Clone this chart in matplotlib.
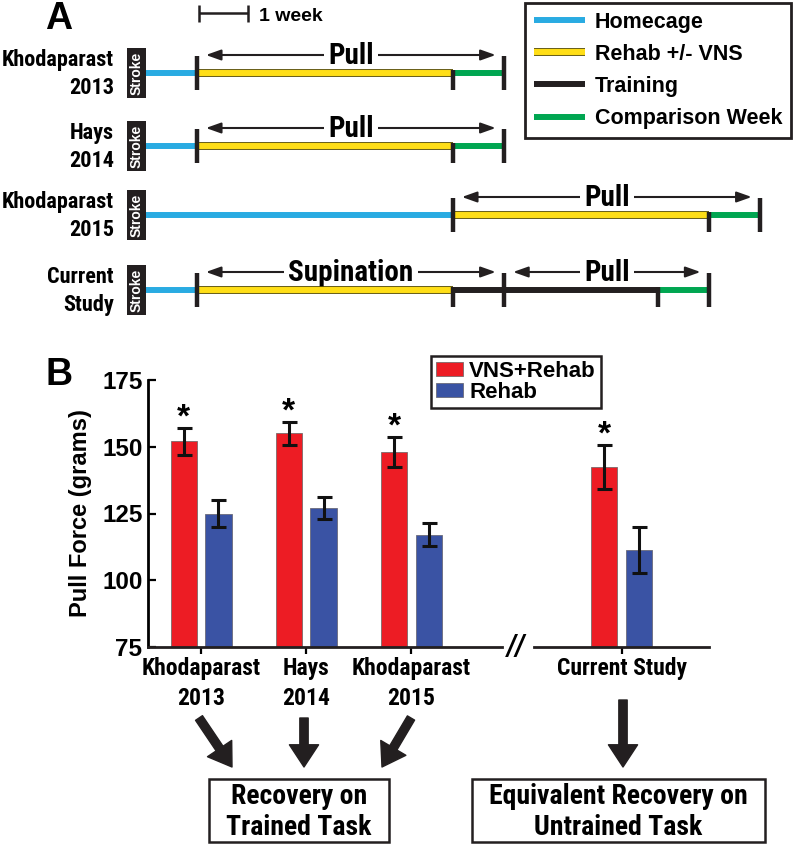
import matplotlib
matplotlib.use("Agg")
import matplotlib.pyplot as plt
from matplotlib import font_manager as fm
from matplotlib.patches import Rectangle, FancyArrowPatch
from matplotlib.lines import Line2D
import matplotlib.patheffects as pe

# ---------------- data ----------------
# Panel A: timelines (weeks after stroke)
phase_names = ["Homecage", "Rehab +/- VNS", "Training", "Comparison Week"]
timeline_studies = ["Khodaparast\n2013", "Hays\n2014", "Khodaparast\n2015", "Current\nStudy"]
seg_khodaparast2013 = [(0, 0, 1), (1, 1, 6), (3, 6, 7)]
seg_hays2014 = [(0, 0, 1), (1, 1, 6), (3, 6, 7)]
seg_khodaparast2015 = [(0, 0, 6), (1, 6, 11), (3, 11, 12)]
seg_current = [(0, 0, 1), (1, 1, 6), (2, 6, 10), (3, 10, 11)]
timeline_segments = [seg_khodaparast2013, seg_hays2014, seg_khodaparast2015, seg_current]
tall_ticks = [[1, 7], [1, 7], [6, 12], [1, 7, 11]]
short_ticks = [[6], [6], [11], [6, 10]]
task_spans = [[("Pull", 1, 7)], [("Pull", 1, 7)], [("Pull", 6, 12)],
              [("Supination", 1, 7), ("Pull", 7, 11)]]

# Panel B: pull force
groups = ["Khodaparast\n2013", "Hays\n2014", "Khodaparast\n2015", "Current Study"]
vns_rehab_mean = [152, 155, 148, 142.5]
vns_rehab_sem = [5.0, 4.3, 5.5, 8.2]
rehab_mean = [125, 127, 117, 111.3]
rehab_sem = [5.0, 4.2, 4.3, 8.6]
significant = [True, True, True, True]
outcome_texts = ["Recovery on\nTrained Task", "Equivalent Recovery on\nUntrained Task"]

# ---------------- style ----------------
avail = {f.name for f in fm.fontManager.ttflist}
COND = next((f for f in ["Liberation Sans Narrow", "Roboto Condensed",
                         "Open Sans Condensed", "DejaVu Sans"] if f in avail), "DejaVu Sans")
MAIN = "Liberation Sans"
plt.rcParams["font.family"] = [MAIN, "DejaVu Sans"]

phase_colors = ["#29ABE2", "#FFDE17", "#231F20", "#00A651"]
RED = "#ED1C24"
BLUE = "#3A53A4"

W, H, DPI = 800, 844, 100
fig = plt.figure(figsize=(W / DPI, H / DPI), dpi=DPI)

WEEK_PX = 51.2
X0 = 146
row_y = [73, 146, 215, 290]

# Panel A axes: x in weeks, y in pixels
axA = fig.add_axes([0, 0, 1, 1], zorder=0)
axA.set_xlim(-X0 / WEEK_PX, (W - X0) / WEEK_PX)
axA.set_ylim(H, 0)
axA.axis("off")

# overlay in pixel coordinates
axP = fig.add_axes([0, 0, 1, 1], zorder=3)
axP.set_xlim(0, W)
axP.set_ylim(H, 0)
axP.axis("off")
axP.patch.set_alpha(0)

yellow_fx = [pe.Stroke(linewidth=5.6, foreground="#5a4e00"), pe.Normal()]

for i, (label, segs) in enumerate(zip(timeline_studies, timeline_segments)):
    y = row_y[i]
    for ph, s, e in segs:
        axA.plot([s, e], [y, y], color=phase_colors[ph], lw=4.3, solid_capstyle="butt",
                 path_effects=yellow_fx if ph == 1 else None, zorder=3)
    for t in tall_ticks[i]:
        axA.plot([t, t], [y - 17, y + 17], color="#231F20", lw=3.2, solid_capstyle="butt", zorder=3.5)
    for t in short_ticks[i]:
        axA.plot([t, t], [y - 3, y + 17], color="#231F20", lw=3.2, solid_capstyle="butt", zorder=3.5)
    # stroke box
    axA.add_patch(Rectangle((-19 / WEEK_PX, y - 25), 19 / WEEK_PX, 50,
                            facecolor="#231F20", edgecolor="none", zorder=3))
    axA.text(-9.5 / WEEK_PX, y, "Stroke", rotation=90, color="white", fontsize=10,
             fontweight="bold", ha="center", va="center", zorder=4)
    axA.text(-32 / WEEK_PX, y + 1, label, ha="right", va="center", multialignment="right",
             fontsize=16, fontweight="bold", family=[COND, "DejaVu Sans"], linespacing=1.3)
    ya = y - 18
    for name, s, e in task_spans[i]:
        axA.annotate("", xy=(e - 0.17, ya), xytext=(s + 0.17, ya),
                     arrowprops=dict(arrowstyle="<|-|>,head_length=0.9,head_width=0.32",
                                     color="#231F20", lw=1.5, shrinkA=0, shrinkB=0,
                                     mutation_scale=10), zorder=2)
        axA.text((s + e) / 2, ya + 9, name, ha="center", va="baseline", fontsize=21,
                 fontweight="bold", family=[COND, "DejaVu Sans"], zorder=2.5,
                 bbox=dict(facecolor="white", edgecolor="none", pad=3))

# scale bar: 1 week
axA.plot([1.03, 2.0], [13, 13], color="#231F20", lw=1.8, solid_capstyle="butt")
for t in [1.03, 2.0]:
    axA.plot([t, t], [5, 22], color="#231F20", lw=1.8, solid_capstyle="butt")
axA.text(2.2, 21, "1 week", fontsize=14, fontweight="bold", ha="left", va="baseline")

# legend A
handlesA = []
for c, n in zip(phase_colors, phase_names):
    handlesA.append(Line2D([0], [0], color=c, lw=4.3, solid_capstyle="butt",
                           path_effects=yellow_fx if c == phase_colors[1] else None, label=n))
legA = axP.legend(handles=handlesA, loc="upper left", bbox_to_anchor=(525 / W, 1 - 3 / H),
                  bbox_transform=fig.transFigure, prop=dict(family=MAIN, weight="bold", size=15.5),
                  handlelength=2.4, handletextpad=0.45, labelspacing=0.52, borderpad=0.4,
                  borderaxespad=0, fancybox=False, framealpha=1, edgecolor="#231F20")
legA.get_frame().set_linewidth(2)

# panel letters
axP.text(59, 29, "A", fontsize=27, fontweight="bold", ha="center", va="baseline")
axP.text(59, 385, "B", fontsize=27, fontweight="bold", ha="center", va="baseline")

# ---------------- Panel B ----------------
axB = fig.add_axes([148 / W, (H - 647) / H, (709 - 148) / W, (647 - 380) / H], zorder=1)
axB.patch.set_alpha(0)
pos = [0, 1, 2, 4]
bw, off = 0.25, 0.165
err_kw = dict(ecolor="#111111", elinewidth=2.2, capsize=5.4, capthick=2.2)
axB.bar([p - off for p in pos], vns_rehab_mean, bw, yerr=vns_rehab_sem, color=RED,
        edgecolor="#7a6a6a", linewidth=0.6, error_kw=err_kw, label="VNS+Rehab", zorder=2)
axB.bar([p + off for p in pos], rehab_mean, bw, yerr=rehab_sem, color=BLUE,
        edgecolor="#6a6a7a", linewidth=0.6, error_kw=err_kw, label="Rehab", zorder=2)
for p, m, s, sig in zip(pos, vns_rehab_mean, vns_rehab_sem, significant):
    if sig:
        axB.text(p - off, m + s + 3.8, "*", ha="center", va="center", fontsize=24,
                 fontweight="bold")

xmin, xmax = -0.504, 4.83
axB.set_xlim(xmin, xmax)
axB.set_ylim(75, 175)
axB.set_yticks([75, 100, 125, 150, 175])
axB.set_xticks(pos)
axB.set_xticklabels(groups, fontsize=17, fontweight="bold", family=[COND, "DejaVu Sans"],
                    linespacing=1.38)
for lab in axB.get_yticklabels():
    lab.set_fontsize(17.5)
    lab.set_fontweight("bold")
axB.tick_params(axis="y", direction="in", length=6, width=1.6, pad=4)
axB.tick_params(axis="x", direction="out", length=5, width=1.6, pad=2)
for sp in ["top", "right", "bottom"]:
    axB.spines[sp].set_visible(False)
axB.spines["left"].set_linewidth(2)
axB.plot([xmin, 2.86], [75, 75], color="#231F20", lw=2, clip_on=False, zorder=3)
axB.plot([3.17, xmax], [75, 75], color="#231F20", lw=2, clip_on=False, zorder=3)
axB.text(3.0, 75, "//", ha="center", va="center", fontsize=21, fontweight="bold",
         style="italic", family=[COND, "DejaVu Sans"])
axB.set_ylabel("Pull Force (grams)", fontsize=17, fontweight="bold", labelpad=7)

legB = axB.legend(loc="upper left", bbox_to_anchor=(431 / W, 1 - 356 / H),
                  bbox_transform=fig.transFigure, prop=dict(family=MAIN, weight="bold", size=16),
                  handlelength=1.2, handleheight=0.65, handletextpad=0.3, labelspacing=0.0,
                  borderpad=0.22, borderaxespad=0, fancybox=False, framealpha=1,
                  edgecolor="#231F20")
legB.get_frame().set_linewidth(1.8)

# ---------------- outcome arrows and boxes ----------------
arrows_px = [((199, 718), (232, 767)), ((304, 718), (304, 767)),
             ((411, 718), (382, 767)), ((623, 700), (623, 767))]
for a, b in arrows_px:
    axP.add_patch(FancyArrowPatch(a, b, arrowstyle="simple,head_width=21,head_length=16,tail_width=6",
                                  color="#231F20", shrinkA=0, shrinkB=0, mutation_scale=1))
boxes_px = [(209, 389), (472, 765)]
for (x1, x2), txt in zip(boxes_px, outcome_texts):
    axP.add_patch(Rectangle((x1, 779), x2 - x1, 63, facecolor="white", edgecolor="#231F20", lw=1.8))
    axP.text((x1 + x2) / 2, 812, txt, ha="center", va="center", fontsize=20, fontweight="bold",
             family=[COND, "DejaVu Sans"], linespacing=1.15)

fig.savefig("out.png", dpi=DPI)
